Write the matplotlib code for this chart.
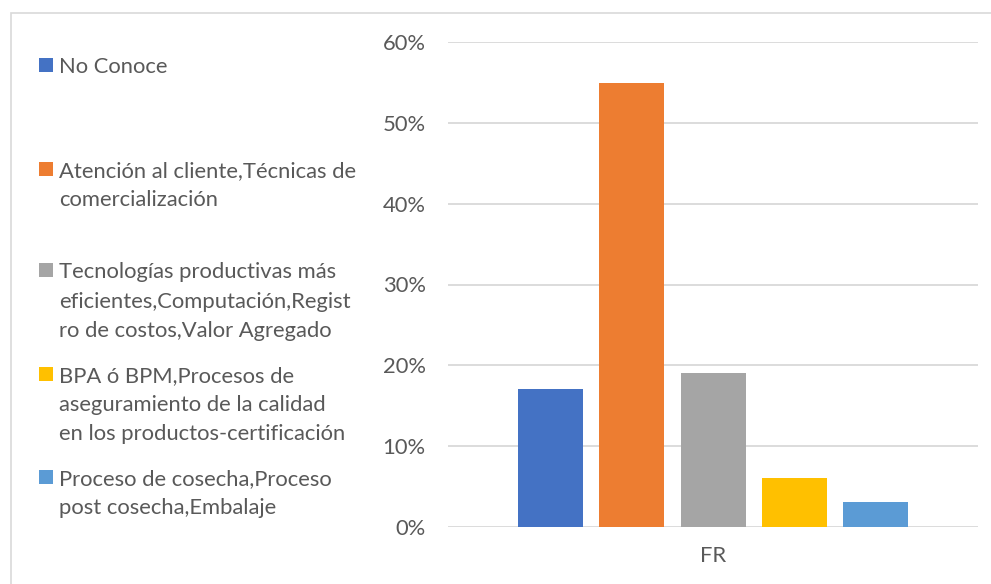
import matplotlib
matplotlib.use("Agg")
import matplotlib.pyplot as plt
from matplotlib.patches import Rectangle
from matplotlib.ticker import PercentFormatter

categories = ["FR"]
series_labels = [
    "No Conoce",
    "Atención al cliente,Técnicas de\ncomercialización",
    "Tecnologías productivas más\neficientes,Computación,Regist\nro de costos,Valor Agregado",
    "BPA ó BPM,Procesos de\naseguramiento de la calidad\nen los productos-certificación",
    "Proceso de cosecha,Proceso\npost cosecha,Embalaje",
]
series_values = [0.17, 0.55, 0.19, 0.06, 0.03]
colors = ["#4472C4", "#ED7D31", "#A5A5A5", "#FFC000", "#5B9BD5"]
yticks = [0, 0.1, 0.2, 0.3, 0.4, 0.5, 0.6]

W, H = 991, 584
FONT = "Lato"
FS = 15.8
TXT = "#595959"
GRID = "#D9D9D9"

fig = plt.figure(figsize=(W / 100, H / 100), dpi=100)
fig.patch.set_facecolor("white")

# chart border
fig.patches.append(Rectangle((11 / W, -0.05), 1.1, 1 - 12.7 / H + 0.05,
                             transform=fig.transFigure, fill=False,
                             edgecolor=GRID, linewidth=1.2))

left, right = 448 / W, 978 / W
bottom, top = 1 - 526.7 / H, 1 - 42.3 / H
ax = fig.add_axes([left, bottom, right - left, top - bottom])

n = len(series_values)
bar_w = 65 / 530
step = 81.25 / 530
for i, (v, c) in enumerate(zip(series_values, colors)):
    ax.bar(0 + (i - (n - 1) / 2) * step, v, width=bar_w, color=c, zorder=3)

ax.set_xlim(-0.5, 0.5)
ax.set_ylim(0, 0.6)
ax.set_yticks(yticks)
ax.yaxis.set_major_formatter(PercentFormatter(1.0, decimals=0))
ax.set_xticks([0])
ax.set_xticklabels(categories)
for s in ax.spines.values():
    s.set_visible(False)
ax.grid(axis="y", color=GRID, linewidth=1.3, zorder=0)
ax.set_axisbelow(True)
ax.tick_params(axis="both", length=0, labelsize=FS, labelcolor=TXT)
ax.tick_params(axis="y", pad=16)
ax.tick_params(axis="x", pad=14)
for lab in ax.get_xticklabels() + ax.get_yticklabels():
    lab.set_fontfamily(FONT)

# legend (manual, Excel-like placement)
baselines = [73.3, 176.7, 278.3, 381.7, 485.0]
line_gap = 29.3
for lab, c, b in zip(series_labels, colors, baselines):
    fig.patches.append(Rectangle((39 / W, 1 - (b - 1) / H), 14 / W, 14 / H,
                                 transform=fig.transFigure, facecolor=c,
                                 edgecolor="none"))
    for j, line in enumerate(lab.split("\n")):
        fig.text(59 / W, 1 - (b + j * line_gap) / H, line, fontsize=FS,
                 family=FONT, color=TXT, ha="left", va="baseline")

fig.savefig("out.png", dpi=100)
